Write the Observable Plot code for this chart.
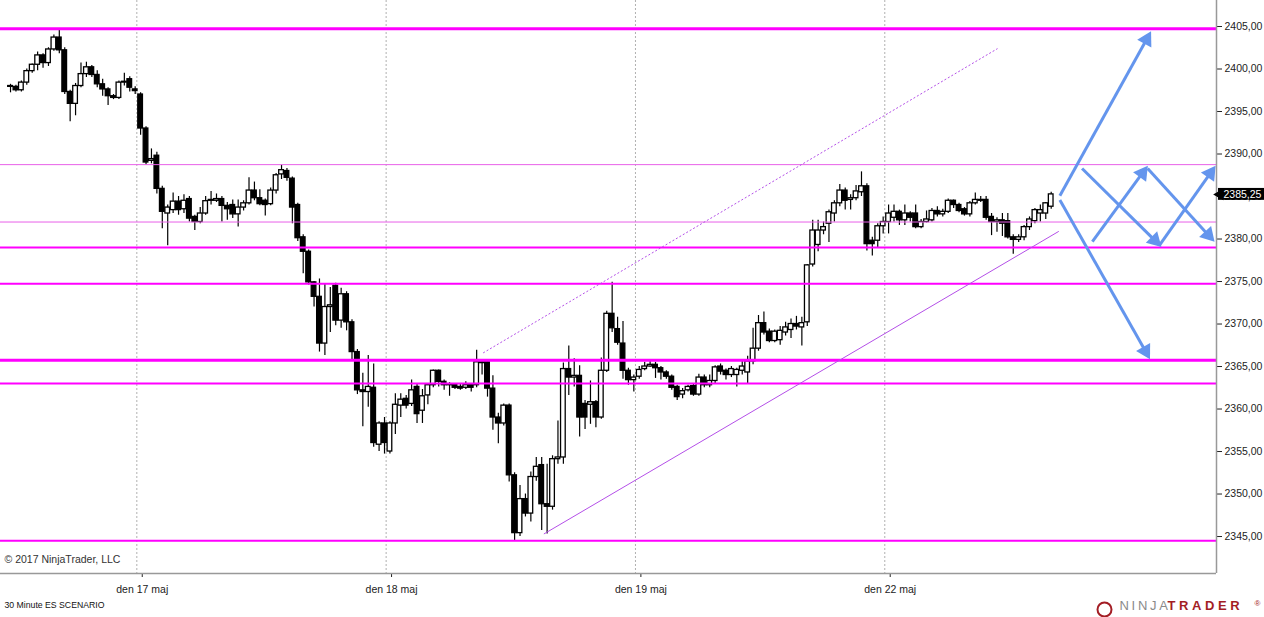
<!DOCTYPE html>
<html>
<head>
<meta charset="utf-8">
<script src="https://cdn.jsdelivr.net/npm/d3@7"></script>
<script src="https://cdn.jsdelivr.net/npm/@observablehq/plot@0.6"></script>
<style>
  body { margin: 0; background: white; }
</style>
</head>
<body>
<div id="chart"></div>
<script>
// 30 minute ES bars, index 0 = first bar on the chart
const opens = [
  2398.0, 2397.9, 2397.5, 2398.4, 2399.75, 2400.5, 2401.6, 2400.7, 2402.3, 2403.7,
  2402.2, 2397.3, 2395.9, 2398.0, 2399.4, 2400.2, 2399.3, 2398.2, 2397.6, 2396.8,
  2396.6, 2398.4, 2398.8, 2397.6, 2397.0, 2393.0, 2389.2, 2389.8, 2385.9, 2383.0,
  2383.4, 2384.4, 2383.5, 2384.7, 2382.6, 2382.0, 2383.0, 2384.6, 2384.5, 2384.7,
  2383.9, 2384.0, 2382.9, 2383.7, 2384.2, 2385.7, 2384.8, 2384.5, 2384.1, 2385.7,
  2387.6, 2388.0, 2387.1, 2384.0, 2380.2, 2378.5, 2374.9, 2373.2, 2367.7, 2372.0,
  2374.5, 2370.4, 2373.5, 2370.2, 2366.7, 2362.2, 2362.0, 2362.5, 2355.8, 2358.3,
  2355.0, 2358.3, 2360.4, 2361.2, 2360.6, 2362.6, 2359.8, 2361.6, 2362.8, 2364.5,
  2363.2, 2362.9, 2362.9, 2362.6, 2362.5, 2362.8, 2362.8, 2365.5, 2365.5, 2362.4,
  2359.0, 2358.3, 2360.4, 2352.2, 2345.4, 2349.4, 2347.7, 2352.0, 2353.4, 2348.8,
  2348.5, 2354.1, 2354.3, 2364.7, 2363.7, 2363.9, 2360.6, 2360.5, 2360.8, 2359.0,
  2364.5, 2371.2, 2369.4, 2367.7, 2364.5, 2363.4, 2363.8, 2364.7, 2365.0, 2365.2,
  2364.8, 2364.3, 2363.8, 2362.6, 2361.7, 2362.2, 2362.7, 2361.7, 2363.7, 2362.8,
  2363.3, 2365.0, 2364.5, 2364.0, 2364.0, 2364.5, 2364.3, 2365.6, 2367.1, 2370.1,
  2369.1, 2368.0, 2368.1, 2369.0, 2369.3, 2370.0, 2369.6, 2370.2, 2377.0, 2379.3,
  2381.0, 2381.8, 2383.0, 2384.2, 2385.7, 2384.6, 2384.8, 2385.5, 2386.2, 2379.8,
  2379.8, 2381.5, 2382.0, 2382.5, 2383.2, 2382.2, 2383.0, 2383.0, 2381.4, 2382.0,
  2382.2, 2383.3, 2382.9, 2383.2, 2384.5, 2384.0, 2383.5, 2382.9, 2384.2, 2384.6,
  2384.6, 2382.6, 2382.0, 2382.2, 2382.1, 2380.2, 2379.9, 2380.2, 2381.4, 2382.1,
  2383.0, 2383.0, 2383.8
]
const highs = [
  2398.2, 2398.1, 2398.6, 2400.0, 2400.6, 2402.0, 2401.8, 2402.5, 2404.0, 2404.6,
  2402.5, 2397.5, 2398.3, 2400.7, 2400.8, 2400.4, 2399.8, 2398.8, 2397.8, 2397.0,
  2398.6, 2399.5, 2399.1, 2397.9, 2397.2, 2393.2, 2390.6, 2390.2, 2386.2, 2384.0,
  2385.4, 2385.0, 2385.2, 2385.0, 2382.8, 2383.7, 2385.0, 2385.6, 2385.3, 2385.0,
  2384.3, 2384.6, 2384.6, 2384.5, 2387.2, 2386.7, 2385.8, 2384.7, 2386.0, 2387.7,
  2388.7, 2388.3, 2387.3, 2384.2, 2380.5, 2378.7, 2375.0, 2375.3, 2374.7, 2374.3,
  2374.8, 2374.2, 2373.8, 2370.5, 2367.0, 2364.2, 2366.3, 2365.3, 2358.5, 2359.0,
  2358.5, 2361.8, 2361.8, 2361.6, 2363.4, 2363.0, 2362.3, 2363.0, 2364.6, 2364.6,
  2363.4, 2363.1, 2363.0, 2362.9, 2363.2, 2363.0, 2366.9, 2365.8, 2365.8, 2363.9,
  2359.5, 2360.6, 2360.6, 2352.5, 2351.0, 2350.0, 2352.6, 2354.3, 2354.3, 2353.5,
  2354.5, 2358.6, 2365.4, 2367.4, 2365.9, 2365.1, 2361.0, 2363.3, 2361.0, 2366.0,
  2371.5, 2374.9, 2370.8, 2370.3, 2364.8, 2364.0, 2365.0, 2365.5, 2365.6, 2365.5,
  2365.0, 2364.5, 2364.0, 2362.8, 2362.4, 2362.8, 2362.9, 2364.1, 2364.0, 2364.0,
  2365.1, 2365.3, 2364.7, 2365.0, 2364.8, 2365.7, 2366.2, 2369.5, 2371.0, 2371.4,
  2369.4, 2369.3, 2369.7, 2370.2, 2370.6, 2370.9, 2370.8, 2377.0, 2382.2, 2382.2,
  2382.0, 2383.4, 2384.5, 2386.4, 2386.0, 2385.2, 2386.3, 2387.9, 2386.5, 2380.2,
  2381.8, 2382.6, 2384.0, 2384.0, 2383.4, 2384.0, 2383.2, 2384.0, 2382.3, 2383.3,
  2383.6, 2383.8, 2383.5, 2384.7, 2384.6, 2384.2, 2383.7, 2384.4, 2385.4, 2385.0,
  2385.0, 2383.0, 2382.5, 2383.0, 2383.0, 2380.5, 2380.5, 2381.6, 2382.6, 2383.6,
  2384.0, 2384.3, 2385.5
]
const lows = [
  2397.2, 2397.3, 2397.3, 2398.1, 2399.5, 2399.8, 2400.1, 2400.3, 2402.1, 2401.8,
  2397.0, 2393.8, 2394.5, 2397.8, 2399.0, 2399.0, 2397.8, 2396.8, 2395.7, 2396.4,
  2396.4, 2398.0, 2397.3, 2397.0, 2392.2, 2388.7, 2388.85, 2385.3, 2381.2, 2379.2,
  2383.0, 2382.8, 2383.0, 2382.0, 2381.0, 2381.8, 2382.8, 2384.0, 2384.3, 2382.0,
  2382.2, 2382.4, 2381.4, 2383.3, 2384.0, 2384.5, 2383.9, 2382.7, 2383.9, 2385.3,
  2387.0, 2386.8, 2381.8, 2379.7, 2375.9, 2374.6, 2372.0, 2366.7, 2366.3, 2369.0,
  2369.8, 2369.5, 2369.2, 2365.7, 2361.7, 2357.9, 2360.2, 2355.5, 2355.0, 2354.7,
  2354.7, 2357.0, 2359.0, 2360.0, 2360.3, 2358.3, 2358.3, 2360.5, 2362.5, 2362.6,
  2362.2, 2361.5, 2362.3, 2362.2, 2362.3, 2362.0, 2362.5, 2364.0, 2361.4, 2357.5,
  2355.9, 2358.0, 2351.4, 2344.5, 2345.0, 2347.3, 2346.7, 2351.5, 2345.7, 2345.3,
  2348.1, 2353.5, 2353.5, 2361.6, 2362.6, 2356.7, 2357.6, 2358.2, 2357.8, 2358.8,
  2364.3, 2369.0, 2367.5, 2363.5, 2362.8, 2362.0, 2363.5, 2364.5, 2364.9, 2363.6,
  2363.4, 2363.5, 2362.2, 2361.0, 2361.2, 2362.0, 2361.5, 2361.5, 2362.5, 2362.5,
  2363.0, 2364.0, 2363.4, 2363.7, 2362.6, 2364.0, 2363.0, 2365.2, 2366.8, 2368.7,
  2367.8, 2367.8, 2367.5, 2368.6, 2368.3, 2369.3, 2367.4, 2369.7, 2376.7, 2378.5,
  2380.5, 2379.6, 2382.0, 2383.8, 2383.4, 2383.4, 2384.5, 2385.0, 2378.6, 2378.0,
  2379.0, 2380.6, 2380.6, 2382.0, 2381.6, 2381.6, 2382.0, 2381.2, 2381.2, 2381.9,
  2382.0, 2382.6, 2382.6, 2383.0, 2383.6, 2383.1, 2382.7, 2382.6, 2384.0, 2384.3,
  2382.2, 2380.4, 2380.8, 2380.3, 2380.0, 2378.2, 2379.6, 2379.8, 2381.0, 2381.8,
  2382.0, 2382.3, 2383.5
]
const closes = [
  2397.9, 2397.5, 2398.4, 2399.75, 2400.5, 2401.6, 2400.7, 2402.3, 2403.7, 2402.2,
  2397.3, 2395.9, 2398.0, 2399.4, 2400.2, 2399.3, 2398.2, 2397.6, 2396.8, 2396.6,
  2398.4, 2398.5, 2397.8, 2397.4, 2393.0, 2389.0, 2389.4, 2385.9, 2383.2, 2383.7,
  2384.4, 2383.4, 2384.5, 2382.4, 2382.0, 2383.0, 2384.45, 2384.5, 2384.7, 2383.9,
  2383.5, 2382.9, 2383.7, 2384.2, 2385.7, 2384.8, 2384.1, 2384.0, 2385.7, 2387.5,
  2388.1, 2387.2, 2383.7, 2380.1, 2378.5, 2374.9, 2373.2, 2367.7, 2372.0, 2372.2,
  2370.4, 2373.5, 2370.2, 2366.7, 2362.2, 2362.0, 2362.6, 2356.0, 2358.3, 2356.0,
  2358.3, 2360.5, 2361.1, 2360.4, 2362.2, 2359.4, 2361.5, 2362.8, 2364.5, 2363.2,
  2362.8, 2362.8, 2362.5, 2362.4, 2362.8, 2362.5, 2365.5, 2365.4, 2362.4, 2359.0,
  2358.3, 2360.4, 2352.2, 2345.4, 2349.4, 2347.7, 2352.0, 2353.2, 2348.8, 2348.5,
  2354.1, 2354.3, 2364.7, 2363.7, 2363.9, 2359.0, 2359.0, 2360.8, 2359.0, 2364.5,
  2371.2, 2369.5, 2367.8, 2364.5, 2363.4, 2363.7, 2364.6, 2365.0, 2365.2, 2364.8,
  2364.3, 2363.8, 2362.5, 2361.4, 2362.1, 2362.6, 2361.7, 2363.7, 2362.8, 2363.3,
  2364.9, 2364.4, 2364.0, 2364.7, 2364.6, 2365.0, 2365.6, 2367.1, 2370.1, 2369.0,
  2368.0, 2369.1, 2369.2, 2369.6, 2370.0, 2369.7, 2370.1, 2376.9, 2381.0, 2381.0,
  2381.4, 2383.15, 2384.2, 2385.7, 2384.5, 2384.8, 2385.6, 2386.2, 2379.4, 2379.4,
  2381.5, 2382.0, 2383.0, 2383.2, 2382.2, 2383.0, 2382.5, 2381.4, 2382.0, 2382.3,
  2383.3, 2382.9, 2383.2, 2384.5, 2384.0, 2383.3, 2382.9, 2384.2, 2384.6, 2384.5,
  2382.5, 2382.0, 2382.2, 2381.8, 2380.2, 2379.9, 2380.2, 2381.4, 2382.3, 2383.4,
  2383.4, 2384.2, 2385.25
]

// day separators (bar index) and their labels
const dayBreaks = [23.3, 69.3, 115.3, 161.3]
const dayLabels = ["den 17 maj", "den 18 maj", "den 19 maj", "den 22 maj"]
const yTicks = d3.range(2345, 2406, 5)

// horizontal levels
const thickLevels = [2404.75, 2365.75]
const mediumLevels = [2379, 2374.75, 2363, 2344.5]
const thinLevels = [2388.75, 2382]

// channel lines (bar index, price)
const trendUpper = {x1: 87.2, y1: 2366.6, x2: 182.1, y2: 2402.4}
const trendLower = {x1: 98.4, y1: 2345.3, x2: 193.4, y2: 2380.9}

// scenario arrows
const arrowX1 = [193.6, 193.6, 197.7, 199.6, 209.8, 211.9]
const arrowY1 = [2385.1, 2384.6, 2388.3, 2379.7, 2388.3, 2379.2]
const arrowX2 = [210.4, 210.2, 212.3, 209.8, 222.1, 222.3]
const arrowY2 = [2404.4, 2365.9, 2379.1, 2388.6, 2379.7, 2388.6]

const xDomain = [-1.85, 222.5]
const yDomain = [2340.65, 2408.06]
const W = 1264, H = 617, mR = 48, mB = 44
const pxX = (W - mR) / (xDomain[1] - xDomain[0])
const pxY = (H - mB) / (yDomain[1] - yDomain[0])

const candles = opens.map((o, i) => ({i, open: o, high: highs[i], low: lows[i], close: closes[i]}))
const lastClose = closes[closes.length - 1]
const fmt = d => d.toFixed(2).replace(".", ",")
const labelTicks = dayBreaks.map(d => d + 1)

const arrows = arrowX1.map((x1, k) => {
  const x2 = arrowX2[k], y1 = arrowY1[k], y2 = arrowY2[k]
  const dx = (x2 - x1) * pxX, dy = (y2 - y1) * pxY
  const back = 9 / Math.hypot(dx, dy)
  return {
    x1, y1,
    hx: x2 - (x2 - x1) * back,
    hy: y2 - (y2 - y1) * back,
    angle: Math.atan2(dx, dy) * 180 / Math.PI
  }
})

const blue = "#6495ed"
const purple = "#b44fe8"

let chart = Plot.plot({
  width: W,
  height: H,
  marginLeft: 0,
  marginRight: mR,
  marginTop: 0,
  marginBottom: mB,
  x: {
    domain: xDomain,
    ticks: labelTicks,
    tickFormat: d => dayLabels[labelTicks.indexOf(d)],
    tickSize: 4,
    tickPadding: 8,
    label: null
  },
  y: {
    domain: yDomain,
    axis: "right",
    ticks: yTicks,
    tickFormat: fmt,
    tickSize: 5,
    tickPadding: 3,
    label: null
  },
  style: {
    fontFamily: "Liberation Sans, Arial, sans-serif",
    fontSize: "10.5px",
    color: "#222",
    background: "white"
  },
  marks: [
    Plot.ruleX(dayBreaks, {stroke: "#b0b0b0", strokeDasharray: "2,2"}),
    // candles
    Plot.ruleX(candles, {x: "i", y1: "low", y2: "high", stroke: "black", strokeWidth: 1.2}),
    Plot.rect(candles, {
      filter: d => d.close >= d.open,
      x1: d => d.i - 0.43, x2: d => d.i + 0.43, y1: "open", y2: "close",
      fill: "white", stroke: "black", strokeWidth: 1.3
    }),
    Plot.rect(candles, {
      filter: d => d.close < d.open,
      x1: d => d.i - 0.43, x2: d => d.i + 0.43, y1: "open", y2: "close",
      fill: "black", stroke: "black", strokeWidth: 1.3
    }),
    // levels
    Plot.ruleY(thinLevels, {stroke: "#e860e8", strokeWidth: 1}),
    Plot.ruleY(mediumLevels, {stroke: "#ff00ff", strokeWidth: 2}),
    Plot.ruleY(thickLevels, {stroke: "#ff00ff", strokeWidth: 3}),
    // channel
    Plot.link([trendUpper], {x1: "x1", y1: "y1", x2: "x2", y2: "y2", stroke: purple, strokeWidth: 1, strokeDasharray: "2,2"}),
    Plot.link([trendLower], {x1: "x1", y1: "y1", x2: "x2", y2: "y2", stroke: purple, strokeWidth: 1}),
    // scenario arrows
    Plot.link(arrows, {x1: "x1", y1: "y1", x2: "hx", y2: "hy", stroke: blue, strokeWidth: 3}),
    Plot.dot(arrows, {x: "hx", y: "hy", symbol: "triangle", r: 6, rotate: "angle", fill: blue}),
    // axis lines
    Plot.ruleY([yDomain[0]], {stroke: "#999", strokeWidth: 1.5}),
    Plot.ruleX([xDomain[1]], {stroke: "#999", strokeWidth: 1.5}),
    // last price tag
    Plot.rect([lastClose], {x1: xDomain[1], x2: xDomain[1] + 9, y1: d => d - 0.7, y2: d => d + 0.7, fill: "black", insetLeft: 2}),
    Plot.dot([lastClose], {x: xDomain[1], y: d => d, dx: 3.5, symbol: "triangle", rotate: -90, r: 4.4, fill: "black"}),
    Plot.text([lastClose], {x: xDomain[1], y: d => d, text: fmt, dx: 7, textAnchor: "start", fill: "white", fontSize: 10.5}),
    // captions
    Plot.text(["© 2017 NinjaTrader, LLC"], {text: d => d, frameAnchor: "bottom-left", dx: 4, dy: -11, textAnchor: "start", fontSize: 10.5, fill: "#333"}),
    Plot.text(["30 Minute ES SCENARIO"], {text: d => d, frameAnchor: "bottom-left", dx: 4, dy: 34, textAnchor: "start", fontSize: 8.7, fill: "#111"}),
    Plot.dot([0], {frameAnchor: "bottom-right", dx: -112, dy: 36, r: 7, stroke: "#a31d24", strokeWidth: 2, fill: "none"}),
    Plot.text(["NINJA"], {text: d => d, frameAnchor: "bottom-right", dx: -97, dy: 36, textAnchor: "start", fontSize: 13, fill: "#8a8a8a"}),
    Plot.text(["TRADER"], {text: d => d, frameAnchor: "bottom-right", dx: -49, dy: 36, textAnchor: "start", fontSize: 13, fontWeight: "bold", fill: "#a31d24"}),
    Plot.text(["®"], {text: d => d, frameAnchor: "bottom-right", dx: 38, dy: 32, textAnchor: "start", fontSize: 8, fill: "#a31d24"})
  ]
})

d3.select(chart).selectAll("text")
  .filter(function () { return this.textContent === "NINJA" }).attr("letter-spacing", 2.7)
d3.select(chart).selectAll("text")
  .filter(function () { return this.textContent === "TRADER" }).attr("letter-spacing", 3.6)

d3.select('#chart').append(() => chart)
</script>
</body>
</html>
